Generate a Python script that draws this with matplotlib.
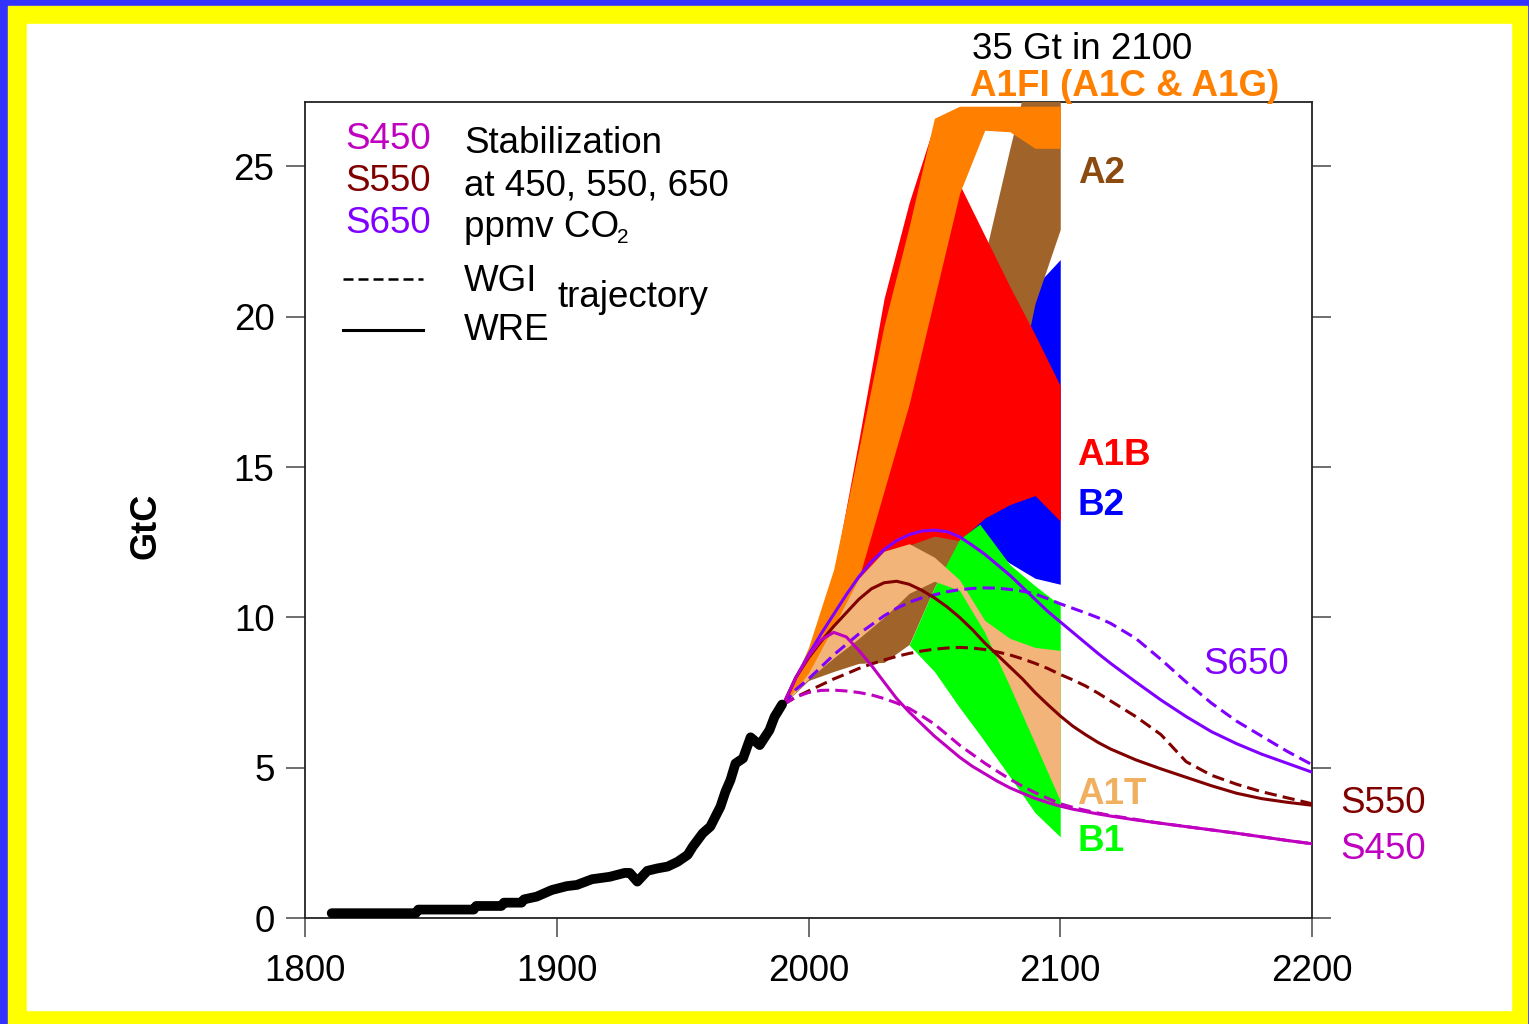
import numpy as np
import matplotlib
matplotlib.use('Agg')
import matplotlib.pyplot as plt
from matplotlib.patches import Rectangle
from matplotlib.lines import Line2D

plt.rcParams['font.family'] = ['Liberation Sans', 'DejaVu Sans']

W, H = 1529, 1024

# ---- historical fossil emissions (GtC) ----
hist_year = [1810.6, 1844, 1845, 1867, 1868, 1878, 1879, 1886, 1887, 1892, 1898, 1904, 1908,
             1914, 1921, 1927, 1929, 1932, 1936, 1940, 1944, 1948, 1952, 1954, 1958, 1961,
             1965, 1967, 1969, 1971, 1974, 1977, 1980.6, 1984.5, 1986.5, 1989.5]
hist_val = [0.16, 0.16, 0.28, 0.28, 0.40, 0.40, 0.51, 0.51, 0.62, 0.71, 0.93, 1.06, 1.10,
            1.29, 1.37, 1.50, 1.50, 1.21, 1.57, 1.65, 1.71, 1.87, 2.10, 2.37, 2.82, 3.04,
            3.70, 4.20, 4.59, 5.14, 5.31, 6.01, 5.75, 6.25, 6.69, 7.10]

# ---- SRES scenario ranges (GtC) ----
dec = [1990, 2000, 2010, 2020, 2030, 2040, 2050, 2060, 2070, 2080, 2090, 2100]

b2_hi = [7.1, 8.2, 9.3, 10.8, 12.3, 14.0, 15.5, 17.0, 18.5, 19.8, 21.0, 21.9]
b2_lo = [7.1, 8.1, 9.0, 9.8, 10.5, 11.0, 11.6, 12.2, 12.4, 11.8, 11.3, 11.1]

a2_hi = [7.1, 8.3, 9.6, 11.0, 12.8, 14.8, 16.0, 18.6, 22.0, 25.6, 29.0, 32.0]
a2_lo = [7.1, 7.9, 8.2, 8.47, 8.5, 9.1, 11.0, 12.5, 13.5, 16.5, 20.44, 22.9]

a1b_hi = [7.1, 8.9, 11.4, 15.9, 20.6, 23.8, 26.4, 24.4, 22.7, 21.0, 19.4, 17.7]
a1b_lo = [7.1, 8.2, 9.5, 10.8, 11.8, 12.4, 12.7, 12.55, 13.3, 13.75, 14.05, 13.2]

b1_year = [2040, 2050, 2060, 2068, 2080, 2090, 2100]
b1_hi = [9.08, 11.0, 12.6, 13.1, 11.75, 11.05, 10.4]
b1_lo = [9.08, 8.2, 7.0, 6.1, 4.7, 3.5, 2.7]

a1t_hi = [7.1, 8.5, 10.0, 11.3, 12.2, 12.45, 12.0, 11.25, 9.9, 9.3, 9.0, 8.9]
a1t_lo = [7.1, 7.95, 8.65, 9.3, 10.0, 10.8, 11.2, 10.9, 9.5, 7.7, 5.8, 3.9]

a1fi_hi = [7.1, 9.0, 11.6, 15.6, 19.7, 23.0, 26.6, 27.0, 27.0, 27.0, 27.0, 27.0]
a1fi_lo = [7.1, 8.15, 9.7, 11.3, 14.2, 17.1, 20.6, 24.1, 26.2, 26.15, 25.6, 25.6]

# ---- stabilization profiles ----
s_year = [1990, 1995, 2000, 2005, 2010, 2015, 2020, 2025, 2030, 2035, 2040, 2045,
          2050, 2055, 2060, 2065, 2070, 2075, 2080, 2085, 2090, 2095, 2100,
          2105, 2110, 2115, 2120, 2130, 2140, 2150, 2160, 2170, 2180, 2190, 2200]
s450_wre = [7.1, 8.0, 8.7, 9.25, 9.5, 9.35, 8.9, 8.4, 7.85, 7.3, 6.85, 6.45,
            6.05, 5.7, 5.35, 5.05, 4.8, 4.55, 4.33, 4.15, 3.98, 3.84, 3.72,
            3.62, 3.54, 3.46, 3.39, 3.26, 3.15, 3.04, 2.93, 2.82, 2.7, 2.58, 2.47]
s450_wgi = [7.1, 7.35, 7.5, 7.57, 7.58, 7.55, 7.5, 7.42, 7.3, 7.15, 6.97, 6.72,
            6.45, 6.1, 5.75, 5.45, 5.15, 4.88, 4.62, 4.38, 4.17, 3.98, 3.8,
            3.68, 3.58, 3.49, 3.41, 3.28, 3.15, 3.04, 2.93, 2.82, 2.7, 2.58, 2.47]
s550_wre = [7.1, 8.0, 8.65, 9.2, 9.7, 10.15, 10.6, 10.95, 11.15, 11.2, 11.1, 10.9,
            10.65, 10.35, 10.0, 9.6, 9.15, 8.75, 8.35, 7.95, 7.5, 7.1, 6.72,
            6.38, 6.1, 5.84, 5.62, 5.26, 4.96, 4.68, 4.4, 4.15, 3.97, 3.85, 3.75]
s550_wgi = [7.1, 7.35, 7.55, 7.75, 7.95, 8.12, 8.3, 8.45, 8.58, 8.7, 8.8, 8.88,
            8.94, 8.98, 9.0, 8.98, 8.93, 8.85, 8.75, 8.62, 8.47, 8.3, 8.1,
            7.92, 7.72, 7.48, 7.22, 6.7, 6.1, 5.2, 4.75, 4.45, 4.2, 4.0, 3.8]
s650_wre = [7.1, 8.0, 8.75, 9.45, 10.1, 10.75, 11.35, 11.85, 12.25, 12.55, 12.75, 12.87,
            12.9, 12.85, 12.68, 12.4, 12.1, 11.75, 11.4, 11.0, 10.6, 10.2, 9.85,
            9.5, 9.15, 8.8, 8.47, 7.85, 7.25, 6.7, 6.2, 5.8, 5.45, 5.15, 4.85]
s650_wgi = [7.1, 7.6, 7.95, 8.35, 8.75, 9.1, 9.45, 9.75, 10.05, 10.3, 10.5, 10.65,
            10.75, 10.85, 10.92, 10.96, 10.98, 10.97, 10.93, 10.87, 10.78, 10.62, 10.45,
            10.3, 10.15, 9.99, 9.8, 9.3, 8.6, 7.85, 7.15, 6.55, 6.05, 5.55, 5.1]

C_ORANGE, C_RED, C_BLUE, C_GREEN = '#FF8000', '#FF0000', '#0000FF', '#00FF00'
C_BROWN, C_TAN = '#A0632A', '#F2B478'
C_S450, C_S550, C_S650 = '#C000C0', '#800000', '#8000FF'


def fx(x):
    return x / W


def fy(y):
    return 1 - y / H


fig = plt.figure(figsize=(W / 100, H / 100), dpi=100)
fig.patch.set_facecolor('#3333FF')
fig.add_artist(Rectangle((fx(8), fy(1024)), fx(1519), 1018 / H, color='#FFFF00',
                         transform=fig.transFigure, zorder=-10))
fig.add_artist(Rectangle((fx(27), fy(1010)), fx(1484), 986 / H, color='white',
                         transform=fig.transFigure, zorder=-9))

ax = fig.add_axes([fx(305), fy(918), 1007 / W, 816 / H])
ax.set_xlim(1800, 2200)
ax.set_ylim(0, 27.14)

# bands, bottom to top
ax.fill_between(dec, b2_lo, b2_hi, color=C_BLUE, lw=0, zorder=2)
ax.fill_between(dec, a2_lo, a2_hi, color=C_BROWN, lw=0, zorder=3)
ax.fill_between(dec, a1b_lo, a1b_hi, color=C_RED, lw=0, zorder=4)
ax.fill_between(b1_year, b1_lo, b1_hi, color=C_GREEN, lw=0, zorder=5)
ax.fill_between(dec, a1t_lo, a1t_hi, color=C_TAN, lw=0, zorder=6)
ax.fill_between(dec, a1fi_lo, a1fi_hi, color=C_ORANGE, lw=0, zorder=7)

# stabilization profiles
dash = (0, (4, 2))
ax.plot(s_year, s650_wgi, color=C_S650, lw=2.2, ls=dash, zorder=10)
ax.plot(s_year, s650_wre, color=C_S650, lw=2.2, zorder=10)
ax.plot(s_year, s550_wgi, color=C_S550, lw=2.2, ls=dash, zorder=10)
ax.plot(s_year, s550_wre, color=C_S550, lw=2.2, zorder=10)
ax.plot(s_year, s450_wgi, color=C_S450, lw=2.2, ls=dash, zorder=10)
ax.plot(s_year, s450_wre, color=C_S450, lw=2.2, zorder=10)

ax.plot(hist_year, hist_val, color='black', lw=7, solid_capstyle='round',
        solid_joinstyle='round', zorder=11)

ax.set_xticks([1800, 1900, 2000, 2100, 2200])
ax.set_yticks([0, 5, 10, 15, 20, 25])
ax.tick_params(axis='both', direction='out', length=14, width=1.2, color='#555555',
               labelsize=26.5, pad=8)
ax.tick_params(axis='y', right=True, pad=8)
ax.tick_params(axis='x', pad=12)
for s in ax.spines.values():
    s.set_color('#222222')
    s.set_linewidth(1.3)

ax.text(-0.158, 0.48, 'GtC', transform=ax.transAxes, rotation=90, fontsize=26,
        fontweight='bold', ha='center', va='center')


# scenario labels
def dlabel(x, y, s, c, bold=True, size=26.5):
    fig.text(fx(x), fy(y), s, color=c, fontsize=size,
             fontweight='bold' if bold else 'normal', ha='left', va='baseline')


dlabel(972, 59, '35 Gt in 2100', 'black', bold=False)
dlabel(970, 96, 'A1FI (A1C & A1G)', C_ORANGE)
dlabel(1078, 183, 'A2', '#8B4A10')
dlabel(1077, 465, 'A1B', C_RED)
dlabel(1078, 515, 'B2', C_BLUE)
dlabel(1077, 804, 'A1T', '#F0B060')
dlabel(1078, 851, 'B1', C_GREEN)
dlabel(1203, 674, 'S650', C_S650, bold=False)
dlabel(1340, 813, 'S550', C_S550, bold=False)
dlabel(1340, 859, 'S450', C_S450, bold=False)

# legend block
dlabel(345, 149, 'S450', C_S450, bold=False)
dlabel(345, 191, 'S550', C_S550, bold=False)
dlabel(345, 233, 'S650', C_S650, bold=False)
dlabel(464, 153, 'Stabilization', 'black', bold=False)
dlabel(464, 195, 'at 450, 550, 650', 'black', bold=False)
dlabel(464, 237, 'ppmv CO', 'black', bold=False)
dlabel(617, 243, '2', 'black', bold=False, size=15)
dlabel(464, 291, 'WGI', 'black', bold=False)
dlabel(557, 307, 'trajectory', 'black', bold=False)
dlabel(464, 340, 'WRE', 'black', bold=False)
fig.add_artist(Line2D([fx(343), fx(423)], [fy(279), fy(279)], color='black', lw=1.8,
                      ls=(0, (4, 2)), transform=fig.transFigure))
fig.add_artist(Line2D([fx(343), fx(423)], [fy(330), fy(330)], color='black', lw=2.2,
                      transform=fig.transFigure))

fig.savefig('out.png', dpi=100, facecolor=fig.get_facecolor())
